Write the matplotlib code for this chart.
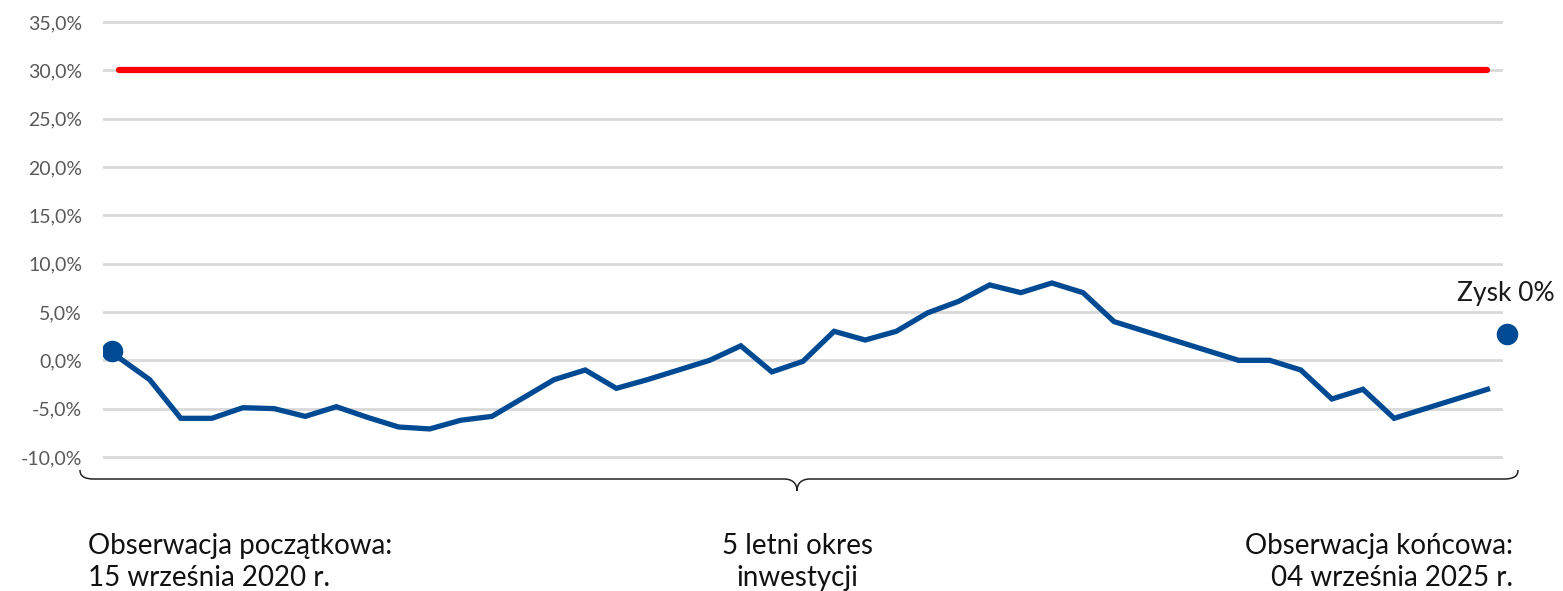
import numpy as np
import matplotlib.pyplot as plt
from matplotlib.path import Path
from matplotlib.patches import PathPatch

# observation values (%), one per period
values = [0.3, -2.0, -6.0, -6.0, -4.9, -5.0, -5.8, -4.8, -5.9, -6.9,
          -7.1, -6.2, -5.8, -3.9, -2.0, -1.0, -2.9, -2.0, -1.0, 0.0,
          1.5, -1.2, -0.1, 3.0, 2.1, 3.0, 4.9, 6.1, 7.8, 7.0,
          8.0, 7.0, 4.0, 3.0, 2.0, 1.0, 0.0, 0.0, -1.0, -4.0,
          -3.0, -6.0, -5.0, -4.0, -3.0]
barrier = 30.0
start_point = (-0.22, 1.0)
end_point = (44.63, 2.7)
end_label = 'Zysk 0%'
yticks = np.arange(-10, 40, 5)

left_text = 'Obserwacja początkowa:\n15 września 2020 r.'
mid_text = '5 letni okres\ninwestycji'
right_text = 'Obserwacja końcowa:\n04 września 2025 r.'

blue = '#004A93'
red = '#FF0000'
W, H = 1563, 591

plt.rcParams['font.family'] = ['Lato', 'DejaVu Sans']

fig = plt.figure(figsize=(W / 100, H / 100), dpi=100)
ax = fig.add_axes([103 / W, (H - 461.8) / H, 1400 / W, 444.6 / H])

x = np.arange(len(values))
ax.plot([x[0], x[-1]], [barrier, barrier], color=red, lw=4.5,
        solid_capstyle='round', zorder=3)
ax.plot(x, values, color=blue, lw=3.8, solid_joinstyle='miter', zorder=4)
ax.plot(*start_point, 'o', color=blue, ms=14.5, zorder=5)
ax.plot(*end_point, 'o', color=blue, ms=14.5, zorder=5, clip_on=False)
ax.annotate(end_label, end_point, xytext=(-1, 24), textcoords='offset points',
            ha='center', va='baseline', fontsize=19, color='#1a1a1a',
            annotation_clip=False)

ax.set_xlim(-0.5, len(values) - 0.5)
ax.set_ylim(-10.5, 35.5)
ax.set_yticks(yticks)
ax.set_yticklabels([f'{v:.1f}%'.replace('.', ',') for v in yticks])
ax.set_xticks([])
ax.tick_params(axis='y', length=0, pad=15, labelsize=14, labelcolor='#595959')
ax.yaxis.grid(True, color='#D9D9D9', lw=2)
ax.set_axisbelow(True)
for s in ax.spines.values():
    s.set_visible(False)

# curly brace below the plot (pixel overlay)
over = fig.add_axes([0, 0, 1, 1], facecolor='none')
over.set_xlim(0, W)
over.set_ylim(H, 0)
over.axis('off')
verts = [(80, 470), (80, 476), (84, 479), (94, 479), (784, 479),
         (792, 479), (797, 483), (797, 491), (797, 483), (802, 479),
         (810, 479), (1504, 479), (1514, 479), (1518, 476), (1518, 470)]
codes = [Path.MOVETO, Path.CURVE4, Path.CURVE4, Path.CURVE4, Path.LINETO,
         Path.CURVE4, Path.CURVE4, Path.CURVE4, Path.CURVE4, Path.CURVE4,
         Path.CURVE4, Path.LINETO, Path.CURVE4, Path.CURVE4, Path.CURVE4]
over.add_patch(PathPatch(Path(verts, codes), fill=False, lw=1.1, color='#222222'))

kw = dict(fontsize=20, color='#111111', va='center', linespacing=1.25)
over.text(88, 562, left_text, ha='left', **kw)
over.text(797, 562, mid_text, ha='center', multialignment='center', **kw)
over.text(1513, 562, right_text, ha='right', multialignment='right', **kw)

fig.savefig('out.png', dpi=100)
